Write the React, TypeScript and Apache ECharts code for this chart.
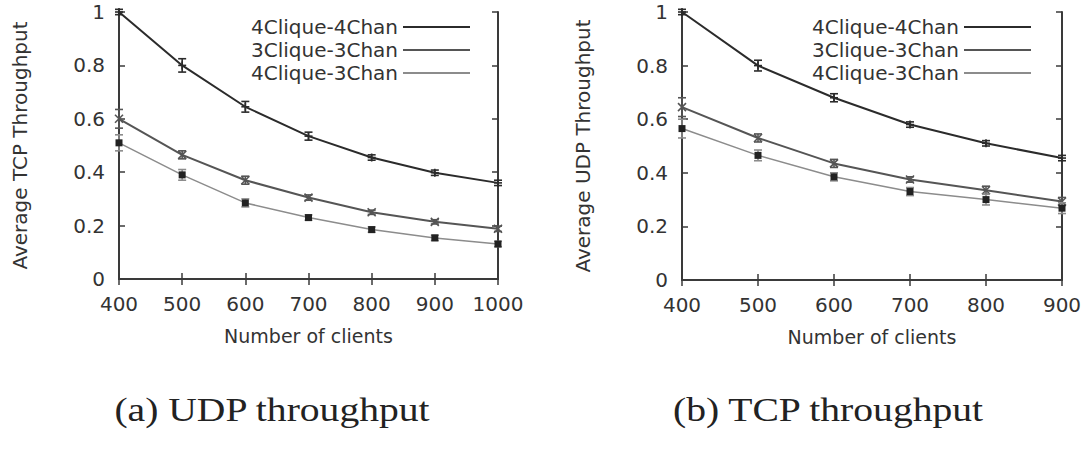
import React, { useEffect, useRef } from "react";
import * as echarts from "echarts";

// ---- data ----
const seriesNames = ["4Clique-4Chan", "3Clique-3Chan", "4Clique-3Chan"];

const clientsA = [400, 500, 600, 700, 800, 900, 1000];
const udp4c4c = [1.0, 0.8, 0.645, 0.535, 0.455, 0.398, 0.36];
const udp3c3c = [0.6, 0.465, 0.37, 0.305, 0.25, 0.214, 0.188];
const udp4c3c = [0.51, 0.39, 0.285, 0.23, 0.185, 0.154, 0.131];
const udp4c4cErr = [0.01, 0.025, 0.02, 0.015, 0.01, 0.01, 0.01];
const udp3c3cErr = [0.035, 0.015, 0.015, 0.01, 0.008, 0.008, 0.01];
const udp4c3cErr = [0.03, 0.02, 0.015, 0.01, 0.01, 0.01, 0.01];

const clientsB = [400, 500, 600, 700, 800, 900];
const tcp4c4c = [1.0, 0.8, 0.68, 0.58, 0.51, 0.455];
const tcp3c3c = [0.645, 0.53, 0.435, 0.375, 0.335, 0.293];
const tcp4c3c = [0.565, 0.465, 0.385, 0.33, 0.3, 0.268];
const tcp4c4cErr = [0.01, 0.02, 0.015, 0.01, 0.01, 0.01];
const tcp3c3cErr = [0.035, 0.015, 0.015, 0.01, 0.015, 0.015];
const tcp4c3cErr = [0.035, 0.02, 0.015, 0.015, 0.02, 0.02];

const yTicks = [0, 0.2, 0.4, 0.6, 0.8, 1];

const FONT = "DejaVu Sans";
const TXT = "#333";
const colors = ["#2b2b2b", "#555555", "#8c8c8c"];
const widths = [2, 2, 1.5];
const markers = ["plus", "cross", "square"];

function errRender(marker: string, color: string) {
  return (_params: any, api: any) => {
    const x = api.value(0);
    const y = api.value(1);
    const e = api.value(2);
    const c = api.coord([x, y]);
    const hi = api.coord([x, y + e]);
    const lo = api.coord([x, y - e]);
    const cw = 4;
    const st = { stroke: color, lineWidth: 1.6, fill: "none" };
    const children: any[] = [
      { type: "line", shape: { x1: c[0], y1: hi[1], x2: c[0], y2: lo[1] }, style: st },
      { type: "line", shape: { x1: c[0] - cw, y1: hi[1], x2: c[0] + cw, y2: hi[1] }, style: st },
      { type: "line", shape: { x1: c[0] - cw, y1: lo[1], x2: c[0] + cw, y2: lo[1] }, style: st },
    ];
    const m = 4;
    if (marker === "plus") {
      children.push({ type: "line", shape: { x1: c[0] - m, y1: c[1], x2: c[0] + m, y2: c[1] }, style: st });
      children.push({ type: "line", shape: { x1: c[0], y1: c[1] - m, x2: c[0], y2: c[1] + m }, style: st });
    } else if (marker === "cross") {
      children.push({ type: "line", shape: { x1: c[0] - m, y1: c[1] - m, x2: c[0] + m, y2: c[1] + m }, style: st });
      children.push({ type: "line", shape: { x1: c[0] - m, y1: c[1] + m, x2: c[0] + m, y2: c[1] - m }, style: st });
    } else {
      children.push({ type: "rect", shape: { x: c[0] - 3.5, y: c[1] - 3.5, width: 7, height: 7 }, style: { fill: "#222" } });
    }
    return { type: "group", children };
  };
}

function xAxisPair(gridIndex: number, max: number, name: string) {
  const base = {
    gridIndex,
    type: "value",
    min: 400,
    max,
    interval: 100,
    splitLine: { show: false },
    axisLine: { show: true, lineStyle: { color: "#3a3a3a", width: 2 } },
    axisTick: { show: true, inside: true, length: 6, lineStyle: { color: "#3a3a3a", width: 1.5 } },
  };
  return [
    {
      ...base,
      position: "bottom",
      name,
      nameLocation: "middle",
      nameGap: 47,
      nameTextStyle: { fontFamily: FONT, fontSize: 19, color: TXT },
      axisLabel: {
        show: true,
        margin: 15,
        fontFamily: FONT,
        fontSize: 20,
        color: TXT,
        formatter: (v: number) => String(Math.round(v)),
      },
    },
    { ...base, position: "top", axisLabel: { show: false } },
  ];
}

function yAxisPair(gridIndex: number, name: string) {
  const base = {
    gridIndex,
    type: "value",
    min: 0,
    max: 1,
    interval: 0.2,
    splitLine: { show: false },
    axisLine: { show: true, lineStyle: { color: "#3a3a3a", width: 2 } },
    axisTick: { show: true, inside: true, length: 6, lineStyle: { color: "#3a3a3a", width: 1.5 } },
  };
  return [
    {
      ...base,
      position: "left",
      name,
      nameLocation: "middle",
      nameGap: 89,
      nameTextStyle: { fontFamily: FONT, fontSize: 20, color: TXT },
      axisLabel: {
        show: true,
        margin: 14,
        fontFamily: FONT,
        fontSize: 20,
        color: TXT,
        formatter: (v: number) => (yTicks.includes(Math.round(v * 10) / 10) ? String(Math.round(v * 10) / 10) : ""),
      },
    },
    { ...base, position: "right", axisLabel: { show: false } },
  ];
}

export default function App() {
  const ref = useRef<HTMLDivElement>(null);
  useEffect(() => {
    if (!ref.current) return;
    const chart = echarts.init(ref.current, undefined, { renderer: "svg" });

    const groups = [
      { xs: clientsA, ys: [udp4c4c, udp3c3c, udp4c3c], es: [udp4c4cErr, udp3c3cErr, udp4c3cErr], xi: 0, yi: 0 },
      { xs: clientsB, ys: [tcp4c4c, tcp3c3c, tcp4c3c], es: [tcp4c4cErr, tcp3c3cErr, tcp4c3cErr], xi: 2, yi: 2 },
    ];

    const series: any[] = [];
    groups.forEach((g, gi) => {
      g.ys.forEach((vals, si) => {
        series.push({
          type: "line",
          name: seriesNames[si],
          xAxisIndex: g.xi,
          yAxisIndex: g.yi,
          data: g.xs.map((x, i) => [x, vals[i]]),
          symbol: "none",
          lineStyle: { color: colors[si], width: widths[si] },
          itemStyle: { color: colors[si] },
          z: 2,
        });
      });
      g.ys.forEach((vals, si) => {
        series.push({
          type: "custom",
          name: "err" + gi + "-" + si,
          xAxisIndex: g.xi,
          yAxisIndex: g.yi,
          data: g.xs.map((x, i) => [x, vals[i], g.es[si][i]]),
          renderItem: errRender(markers[si], colors[si]),
          z: 3,
        });
      });
    });

    const legendData = seriesNames.map((n, i) => ({
      name: n,
      icon: "rect",
      itemStyle: { color: colors[i] },
    }));

    const legendBase = {
      orient: "vertical",
      align: "right",
      top: 17,
      padding: 0,
      itemGap: 3,
      itemWidth: 67,
      itemHeight: 2,
      data: legendData,
      selectedMode: false,
      textStyle: { fontFamily: FONT, fontSize: 20, color: TXT, lineHeight: 20 },
    };

    chart.setOption({
      animation: false,
      backgroundColor: "#ffffff",
      grid: [
        { left: 119, top: 12, width: 379, height: 267 },
        { left: 682, top: 12, width: 380, height: 268 },
      ],
      xAxis: [...xAxisPair(0, 1000, "Number of clients"), ...xAxisPair(1, 900, "Number of clients")],
      yAxis: [...yAxisPair(0, "Average TCP Throughput"), ...yAxisPair(1, "Average UDP Throughput")],
      legend: [
        { ...legendBase, right: 1089 - 470 },
        { ...legendBase, right: 1089 - 1031 },
      ],
      series,
      graphic: [
        {
          type: "text",
          x: 272,
          y: 410,
          scaleX: 1.2,
          style: {
            text: "(a) UDP throughput",
            font: "33px 'Liberation Serif'",
            fill: "#222",
            textAlign: "center",
            textVerticalAlign: "middle",
          },
        },
        {
          type: "text",
          x: 828,
          y: 410,
          scaleX: 1.2,
          style: {
            text: "(b) TCP throughput",
            font: "33px 'Liberation Serif'",
            fill: "#222",
            textAlign: "center",
            textVerticalAlign: "middle",
          },
        },
      ],
    });
    return () => chart.dispose();
  }, []);
  return (
    <div
      ref={ref}
      style={{ position: "fixed", left: 0, top: 0, width: 1089, height: 454, background: "#fff" }}
    />
  );
}
